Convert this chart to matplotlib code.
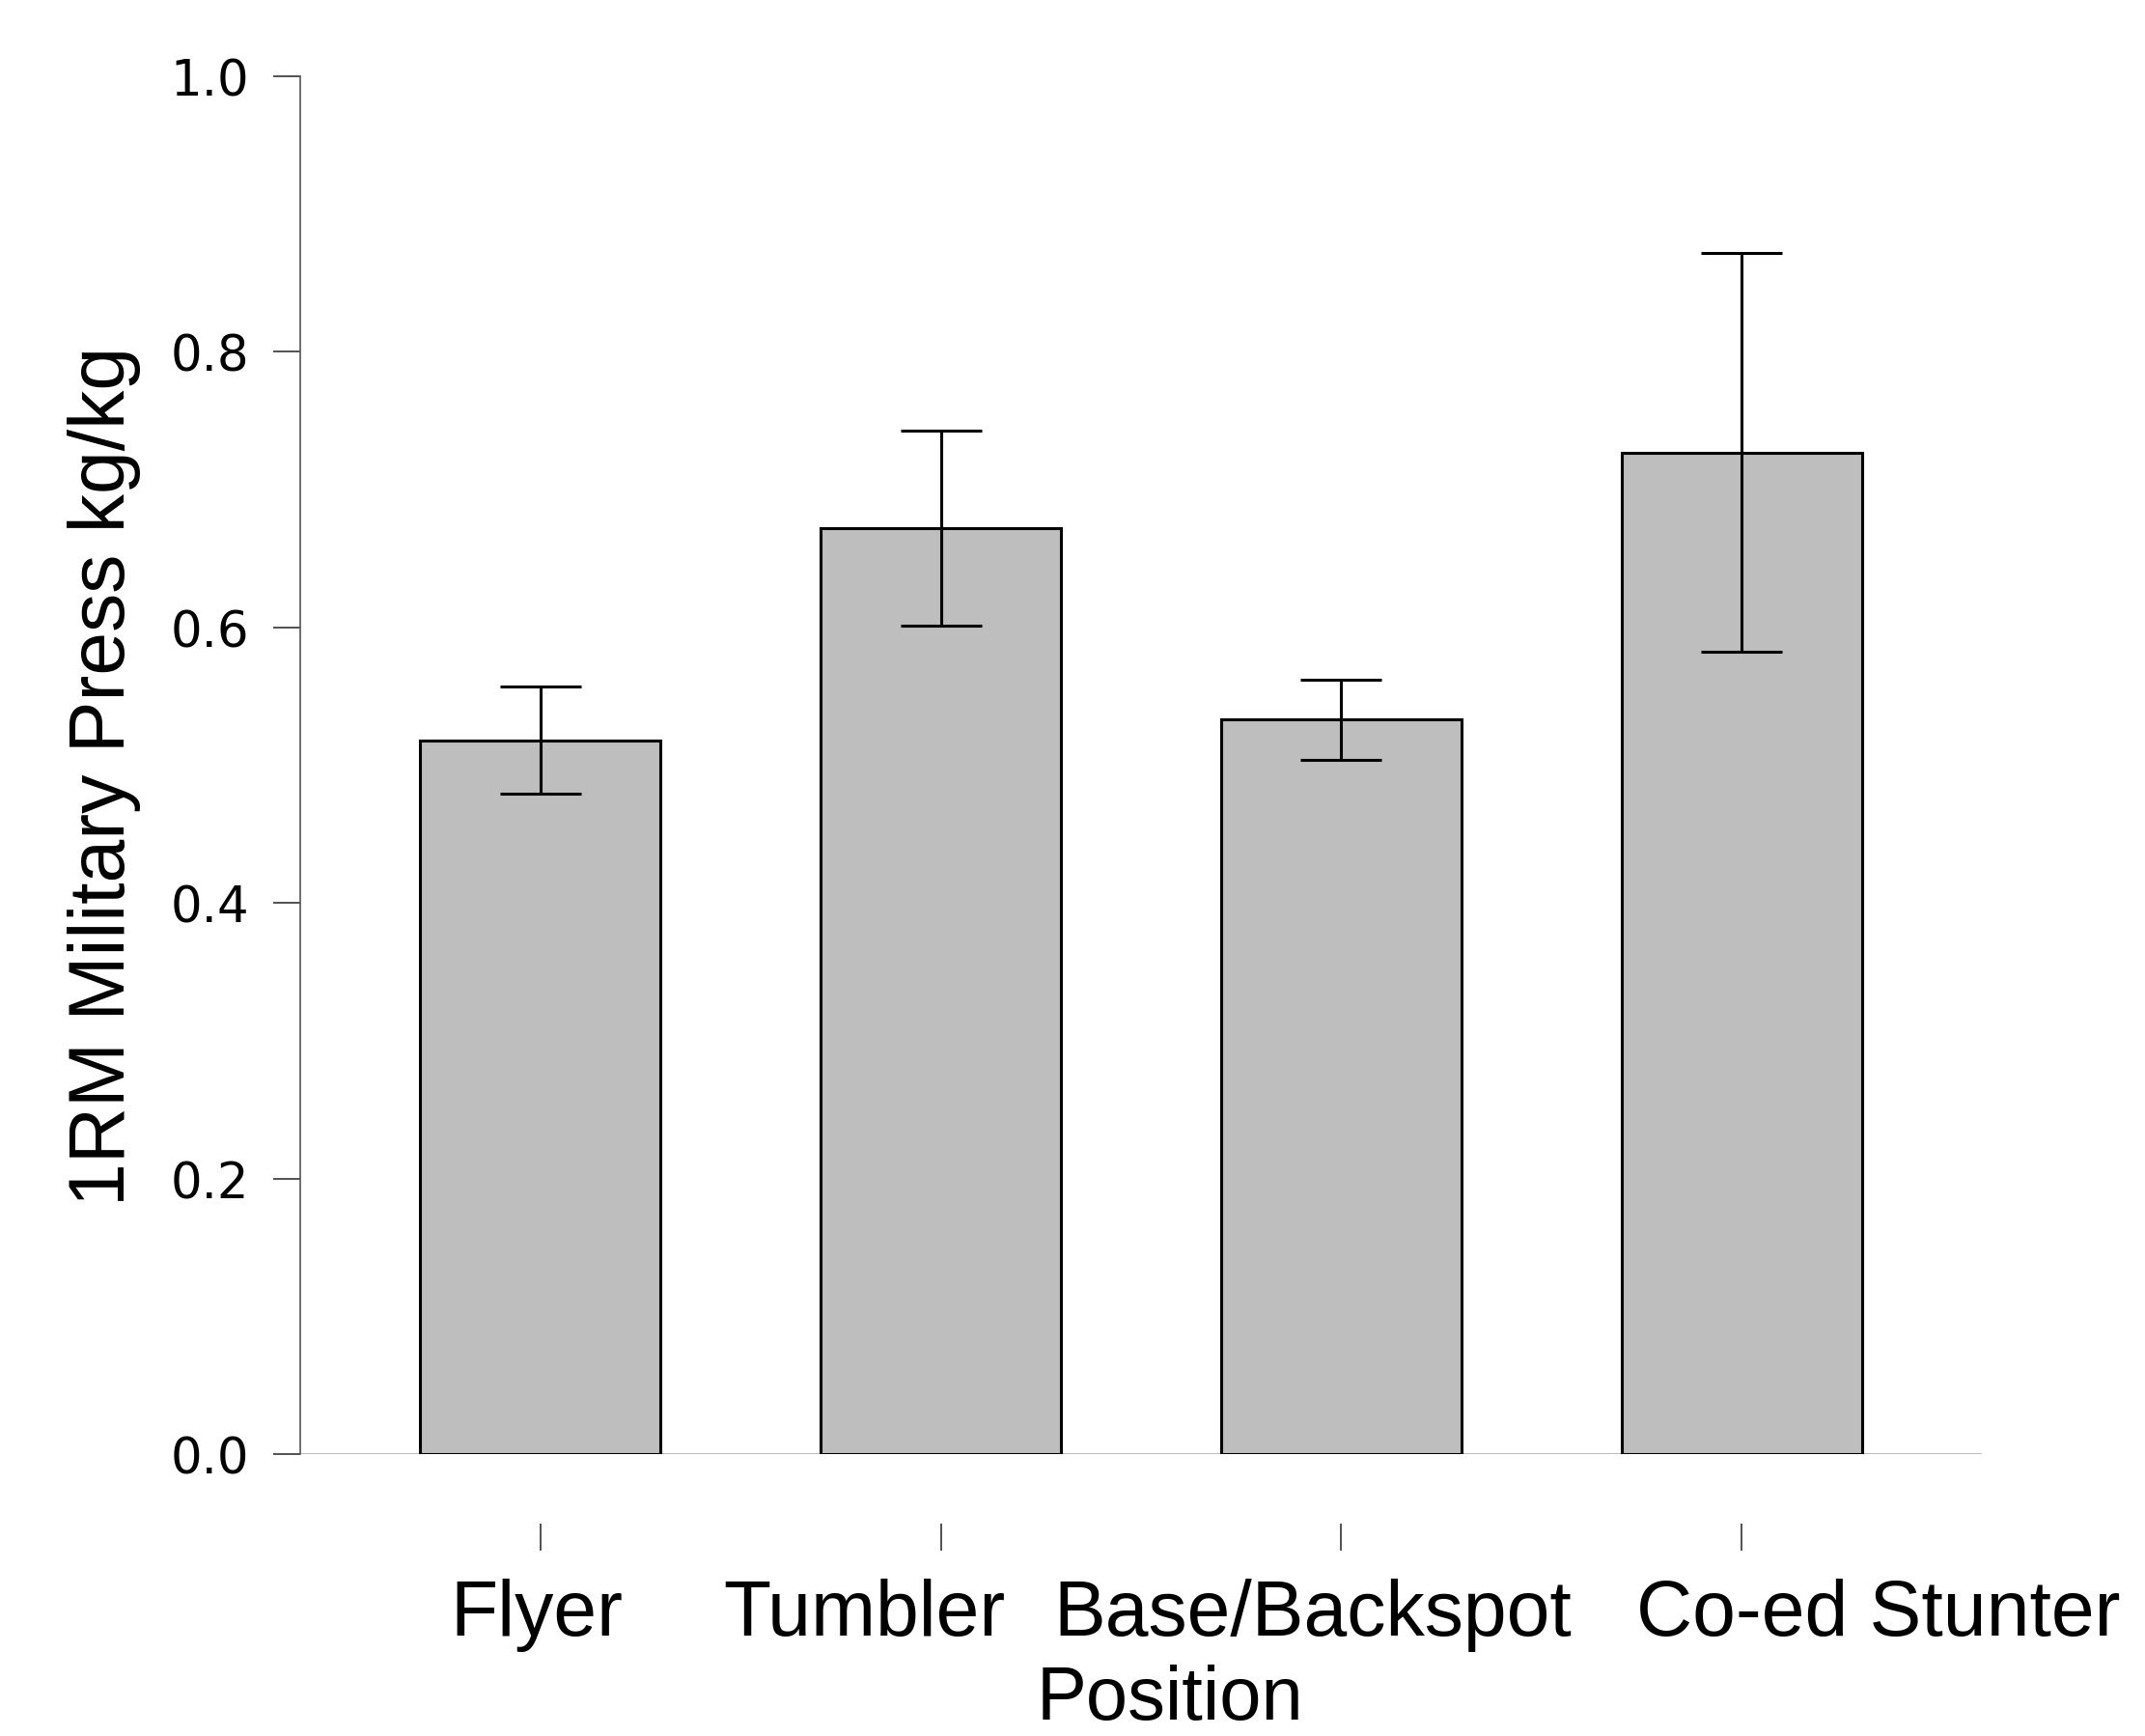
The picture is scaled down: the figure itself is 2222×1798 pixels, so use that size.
import matplotlib
matplotlib.use("Agg")
import matplotlib.pyplot as plt
import matplotlib.transforms as mtransforms
import numpy as np

# data
positions = ["Flyer", "Tumbler", "Base/Backspot", "Co-ed Stunter"]
press_mean = [0.518, 0.672, 0.533, 0.727]
press_err = [0.039, 0.071, 0.029, 0.145]
yticks = [0.0, 0.2, 0.4, 0.6, 0.8, 1.0]

# label nudges in pixels (the labels are not centred under their ticks)
label_shift = [-4, -79, -30, 142]

fig = plt.figure(figsize=(22.22, 17.99), dpi=100)
ax = fig.add_axes([311 / 2222, 1 - 1507 / 1799, 1742 / 2222, 1427 / 1799])

x = np.arange(len(positions))
ax.axhline(0, color="#b4b4b4", lw=2.0, zorder=1)
ax.bar(x, press_mean, width=0.6, color="#bebebe", edgecolor="black",
       linewidth=2.2, zorder=2,
       yerr=press_err, capsize=30,
       error_kw=dict(ecolor="black", elinewidth=2.2, capthick=2.2, zorder=3))

ax.set_xlim(-0.6, 3.6)
ax.set_ylim(0, 1.0)

for s in ["top", "right"]:
    ax.spines[s].set_visible(False)
ax.spines["left"].set_color("#555555")
ax.spines["left"].set_linewidth(1.2)
ax.spines["bottom"].set_position(("outward", 52))
ax.spines["bottom"].set_color("none")

ax.set_yticks(yticks)
ax.set_yticklabels([f"{t:.1f}" for t in yticks], family="DejaVu Sans", fontsize=37)
ax.tick_params(axis="y", length=20, width=1.2, color="#333333", pad=18)

ax.set_xticks(x)
ax.set_xticklabels(positions, family="Liberation Sans", fontsize=58)
ax.tick_params(axis="x", length=20, width=1.2, color="#333333", pad=20)
for lbl, dx in zip(ax.get_xticklabels(), label_shift):
    lbl.set_transform(lbl.get_transform() +
                      mtransforms.ScaledTranslation(dx / 100, 0, fig.dpi_scale_trans))

ax.set_xlabel("Position", family="Liberation Sans", fontsize=56, va="baseline")
ax.xaxis.set_label_coords(0.517, -0.1920)
ax.set_ylabel("1RM Military Press kg/kg", family="Liberation Sans", fontsize=58)
ax.yaxis.set_label_coords(-0.095, 0.493)

fig.savefig("out.png", dpi=100)
